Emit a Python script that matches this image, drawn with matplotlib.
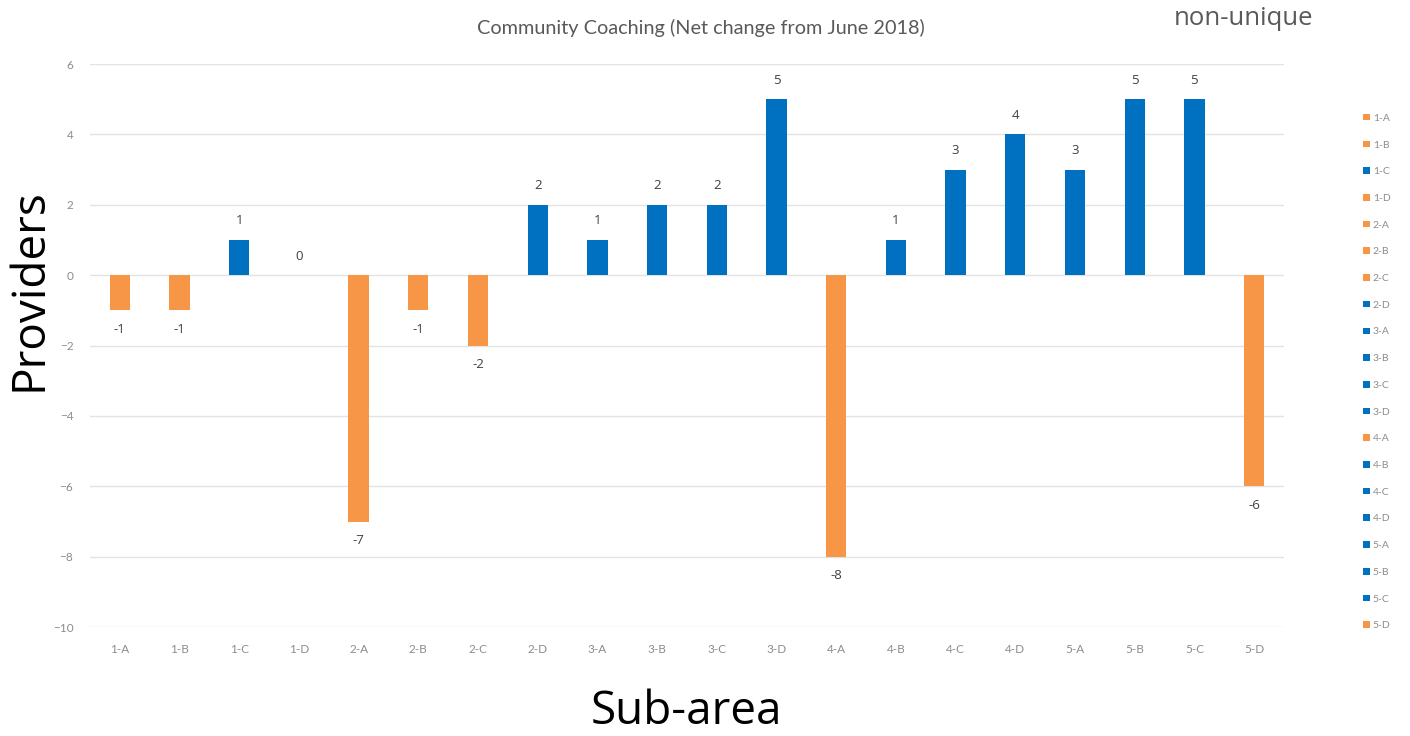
import matplotlib
matplotlib.use("Agg")
import matplotlib.pyplot as plt
from matplotlib.patches import Patch
import numpy as np

# sub-areas and net change in providers since June 2018
sub_areas = ["1-A", "1-B", "1-C", "1-D", "2-A", "2-B", "2-C", "2-D", "3-A", "3-B",
             "3-C", "3-D", "4-A", "4-B", "4-C", "4-D", "5-A", "5-B", "5-C", "5-D"]
net_change = [-1, -1, 1, 0, -7, -1, -2, 2, 1, 2, 2, 5, -8, 1, 3, 4, 3, 5, 5, -6]
y_ticks = [6, 4, 2, 0, -2, -4, -6, -8, -10]

BLUE = "#0070C0"
ORANGE = "#F79646"
colors = [BLUE if v > 0 else ORANGE for v in net_change]

fig = plt.figure(figsize=(14.1, 7.36), dpi=100)
ax = fig.add_axes([0.0638, 0.148, 0.8468, 0.765])

x = np.arange(len(sub_areas))
bars = ax.bar(x, net_change, width=0.34, color=colors, zorder=3)

# data labels: above positive, below negative
ax.bar_label(bars, labels=[str(v) for v in net_change], padding=9,
             fontsize=9.5, color="#404040", family="Open Sans")

ax.set_xlim(-0.5, len(sub_areas) - 0.5)
ax.set_ylim(-10, 6)
ax.set_yticks(y_ticks)
ax.set_xticks(x)
ax.set_xticklabels(sub_areas)
ax.tick_params(axis="both", length=0, labelsize=8.5, labelcolor="#8c8c8c")
ax.tick_params(axis="x", pad=12)
ax.tick_params(axis="y", pad=12)
for lab in ax.get_xticklabels() + ax.get_yticklabels():
    lab.set_family("Lato")
ax.grid(axis="y", color="#e3e3e3", linewidth=1, zorder=0)
for s in ax.spines.values():
    s.set_visible(False)

fig.text(0.021, 0.606, "Providers", rotation=90, ha="center", va="center",
         fontsize=33, family="Open Sans", color="black")
fig.text(0.487, 0.033, "Sub-area", ha="center", va="center",
         fontsize=33, family="Open Sans", color="black")

fig.text(0.497, 0.962, "Community Coaching (Net change from June 2018)", ha="center",
         va="center", fontsize=14.3, color="#595959", family="Lato")
fig.text(0.882, 0.975, "non-unique", ha="center", va="center", fontsize=18.5,
         color="#595959", family="Open Sans")

handles = [Patch(facecolor=c, edgecolor="none") for c in colors]
leg = fig.legend(handles, sub_areas, loc="upper left", bbox_to_anchor=(0.964, 0.851),
                 frameon=False, fontsize=7.5, handlelength=0.6, handleheight=0.6,
                 handletextpad=0.3, labelspacing=1.7, borderaxespad=0)
for t in leg.get_texts():
    t.set_color("#8c8c8c")
    t.set_family("Lato")

fig.savefig("out.png", dpi=100)
